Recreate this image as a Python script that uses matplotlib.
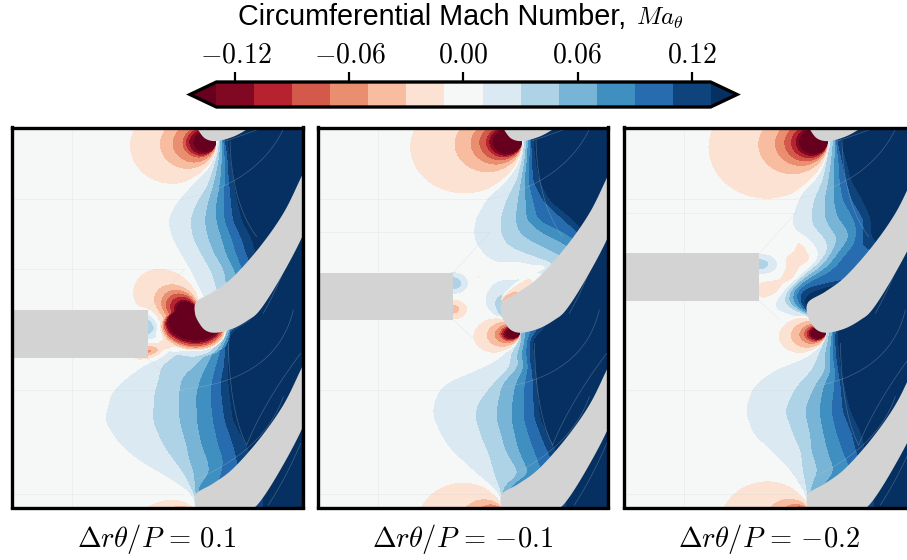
#!/usr/bin/env python3

import numpy as np
from matplotlib import pyplot as plt
from matplotlib.patches import Polygon, Rectangle

plt.rcParams["font.family"] = ["Liberation Sans", "DejaVu Sans"]
plt.rcParams["mathtext.fontset"] = "cm"

# contour levels and colorbar
levels = np.linspace(-0.13, 0.13, 14)
tick_values = [-0.12, -0.06, 0.0, 0.06, 0.12]
tick_labels = [r"$-0.12$", r"$-0.06$", r"$0.00$", r"$0.06$", r"$0.12$"]
cbar_title = "Circumferential Mach Number,"
cbar_symbol = r"$Ma_\theta$"
panel_labels = [r"$\Delta r\theta/P\,=\,0.1$", r"$\Delta r\theta/P\,=\,{-}0.1$", r"$\Delta r\theta/P\,=\,{-}0.2$"]

blue_levels = [0.01, 0.03, 0.05, 0.07, 0.09, 0.11, 0.13]
red_levels = [-0.01, -0.03, -0.05, -0.07, -0.09, -0.11, -0.13]

# x where the field crosses each of blue_levels, per row
rows_1 = [0, 65, 100, 150, 200, 250, 300, 350, 400, 450, 500, 540, 600, 638, 670, 700, 735,
          770, 820, 900, 970, 1020, 1060, 1100, 1125, 1165]
edges_1 = [
    [660, 664, 668, 672, 676, 680, 686],
    [655, 658, 662, 666, 671, 676, 684],
    [650, 655, 660, 668, 675, 683, 690],
    [618, 640, 652, 665, 677, 686, 697],
    [575, 623, 640, 660, 675, 690, 705],
    [530, 590, 625, 650, 672, 695, 715],
    [505, 572, 615, 650, 675, 700, 727],
    [518, 580, 625, 665, 695, 725, 755],
    [545, 605, 645, 680, 710, 740, 770],
    [575, 635, 675, 705, 730, 760, 790],
    [600, 650, 680, 720, 750, 780, 810],
    [620, 660, 700, 730, 750, 770, 790],
    [650, 660, 680, 700, 720, 740, 760],
    [655, 660, 668, 675, 680, 685, 690],
    [600, 640, 650, 657, 668, 680, 690],
    [450, 525, 625, 640, 660, 675, 687],
    [440, 485, 590, 622, 650, 675, 687],
    [385, 480, 548, 605, 640, 665, 685],
    [335, 465, 538, 590, 632, 665, 690],
    [316, 460, 540, 592, 640, 675, 700],
    [360, 490, 560, 605, 655, 700, 740],
    [420, 525, 570, 625, 672, 712, 760],
    [490, 555, 585, 630, 665, 720, 770],
    [555, 575, 585, 595, 650, 730, 780],
    [580, 585, 590, 600, 660, 740, 790],
    [595, 600, 610, 640, 680, 740, 790],
]

rows_2 = [0, 65, 120, 180, 240, 300, 340, 370, 400, 430, 470, 520, 550, 590, 620, 660, 710, 736,
          794, 850, 890, 960, 990, 1060, 1100, 1125, 1165]
edges_2 = [
    [645, 650, 654, 658, 662, 668, 674],
    [640, 645, 650, 655, 660, 665, 672],
    [625, 637, 645, 652, 660, 668, 678],
    [595, 622, 635, 645, 657, 670, 690],
    [530, 590, 625, 648, 670, 700, 720],
    [497, 572, 618, 652, 685, 765, 795],
    [493, 575, 630, 700, 775, 810, 830],
    [500, 590, 680, 770, 810, 825, 840],
    [525, 640, 750, 800, 815, 828, 840],
    [555, 720, 780, 800, 810, 820, 830],
    [565, 760, 780, 790, 795, 800, 810],
    [530, 565, 690, 720, 740, 760, 780],
    [525, 552, 600, 640, 680, 720, 760],
    [560, 575, 620, 640, 660, 690, 710],
    [620, 625, 630, 650, 670, 690, 710],
    [625, 630, 637, 645, 652, 660, 668],
    [580, 600, 620, 635, 650, 660, 675],
    [537, 605, 630, 646, 657, 665, 676],
    [400, 548, 577, 617, 645, 672, 683],
    [372, 505, 565, 608, 642, 672, 688],
    [371, 497, 560, 605, 642, 674, 691],
    [405, 520, 580, 620, 662, 700, 725],
    [428, 535, 588, 628, 674, 714, 740],
    [505, 555, 630, 660, 700, 740, 770],
    [555, 570, 580, 600, 680, 730, 770],
    [572, 576, 580, 590, 680, 730, 770],
    [590, 595, 600, 620, 680, 730, 770],
]

rows_3 = [0, 70, 120, 180, 240, 290, 320, 350, 380, 400, 440, 460, 480, 500, 520, 540, 565, 585, 600,
          660, 710, 750, 800, 870, 940, 990, 1050, 1100, 1125, 1165]
edges_3 = [
    [645, 652, 658, 662, 666, 672, 680],
    [640, 648, 655, 660, 665, 670, 680],
    [625, 637, 650, 660, 672, 682, 695],
    [590, 625, 642, 658, 675, 695, 710],
    [552, 598, 630, 658, 685, 712, 745],
    [536, 590, 630, 668, 715, 745, 768],
    [534, 597, 645, 695, 725, 748, 770],
    [560, 630, 670, 705, 725, 745, 770],
    [600, 640, 660, 685, 715, 740, 800],
    [612, 635, 650, 670, 695, 800, 830],
    [590, 600, 620, 640, 665, 780, 820],
    [560, 575, 590, 610, 640, 780, 820],
    [530, 545, 558, 575, 600, 690, 730],
    [497, 520, 530, 540, 552, 565, 640],
    [480, 508, 520, 532, 545, 555, 572],
    [470, 500, 515, 530, 545, 555, 568],
    [480, 530, 550, 560, 568, 572, 576],
    [515, 575, 580, 585, 590, 595, 600],
    [640, 645, 650, 655, 660, 665, 670],
    [625, 630, 640, 650, 655, 662, 670],
    [590, 610, 630, 645, 655, 665, 675],
    [479, 593, 633, 650, 662, 671, 679],
    [416, 545, 599, 627, 659, 679, 690],
    [393, 511, 570, 614, 650, 684, 707],
    [416, 536, 587, 627, 667, 713, 741],
    [473, 559, 591, 639, 684, 724, 753],
    [530, 565, 610, 660, 710, 750, 780],
    [562, 575, 590, 625, 690, 740, 780],
    [575, 578, 585, 600, 690, 740, 780],
    [590, 595, 600, 620, 690, 740, 780],
]

# red lobes: apex x, apex y, direction x, direction y, squash, radius at each of red_levels
lobes_1 = [
    (650, 62, -1.0, 0.1, 0.9, [131, 86, 67, 52, 47, 42, 36]),
    (590, 590, -0.86, -0.51, 0.8, [106, 72, 60, 52, 45, 38, 35]),
    (585, 560, -0.1, 1.0, 1.5, [68, 65, 62, 60, 57, 55, 52]),
    (602, 1195, -0.95, 0.1, 0.7, [95, 65, 45, 35, 28, 22, 18]),
]
lobes_2 = [
    (638, 60, -1.0, 0.1, 0.85, [170, 103, 79, 66, 56, 51, 46]),
    (632, 636, -1.0, 0.13, 0.75, [72, 52, 40, 33, 30, 27, 24]),
    (575, 545, 0.85, -0.5, 0.4, [68, 28, 3, 2, 1.5, 1, 0.5]),
    (590, 1190, -0.95, 0.1, 0.87, [135, 70, 50, 40, 32, 25, 20]),
]
lobes_3 = [
    (640, 60, -1.0, 0.1, 0.88, [181, 106, 81, 67, 57, 50, 45]),
    (635, 636, -1.0, 0.13, 0.75, [73, 55, 42, 35, 31, 28, 25]),
    (593, 1190, -0.95, 0.1, 0.87, [140, 72, 52, 42, 34, 27, 22]),
]

# small patches: x, y, strength, spread x, spread y
patches_1 = [
    (443, 615, 0.045, 20, 28),
    (443, 693, -0.055, 32, 17),
]
patches_2 = [
    (430, 490, 0.045, 24, 18),
    (430, 568, -0.04, 26, 19),
    (506, 470, -0.014, 5, 6),
    (640, 450, -0.018, 45, 25),
    (700, 440, -0.012, 20, 12),
]
patches_3 = [
    (433, 433, 0.04, 33, 18),
    (552, 418, -0.018, 30, 13),
    (528, 462, -0.018, 22, 28),
    (470, 510, -0.022, 42, 24),
    (560, 380, -0.012, 28, 25),
]

wedge_top = [570, 458, 400]
wedge_bottom = [715, 600, 543]
wedge_end = [443, 430, 433]
x_offsets = [34.5, 22.5, 25.5]
panel_left = [11.5, 317.5, 623.5]

all_rows = [rows_1, rows_2, rows_3]
all_edges = [edges_1, edges_2, edges_3]
all_lobes = [lobes_1, lobes_2, lobes_3]
all_patches = [patches_1, patches_2, patches_3]

# blade outline, middle passage, pitch between neighbours
blade_x = [590, 640, 700, 780, 850, 902, 960, 1010, 1010, 960, 902, 835, 780, 745, 700, 650, 618, 598, 585]
blade_y = [545, 515, 470, 380, 280, 175, 50, -60, 0, 220, 360, 485, 570, 600, 625, 638, 632, 610, 580]
pitch = 575

# faint mesh lines, shared by the panels: three control points each
mesh_arcs = [
    ([775, 730, 680], [28, 45, 62]),
    ([850, 770, 548], [28, 190, 238]),
    ([690, 695, 770], [62, 250, 350]),
    ([880, 830, 548], [570, 780, 808]),
    ([685, 690, 740], [670, 880, 975]),
    ([902, 790, 740], [700, 850, 975]),
    ([850, 790, 560], [830, 1000, 1090]),
    ([902, 860, 805], [970, 1070, 1155]),
    ([902, 880, 790], [250, 420, 580]),
]
mesh_v = 215
mesh_h = [238, 810, 1123]


def smooth(v, n=20):
    pad = np.pad(v, n, mode="edge")
    kernel = np.ones(n) / n
    out = np.convolve(np.convolve(pad, kernel, mode="same"), kernel, mode="same")
    return out[n:-n]


def blue_field(xx, yy, rows, edges):
    edges = np.array(edges, dtype=float) + np.arange(7) * 0.01
    cols = [smooth(np.interp(yy, rows, edges[:, i])) for i in range(7)]
    cols = np.array(cols).T
    z = np.zeros((len(yy), len(xx)))
    for j in range(len(yy)):
        xp = np.concatenate([[cols[j, 0] - 30], cols[j], [cols[j, 6] + 20]])
        fp = np.concatenate([[0.0], blue_levels, [0.15]])
        z[j] = np.interp(xx, xp, fp)
    return z


def lobe_field(X, Y, lobe):
    ax0, ay0, ux, uy, squash, radii = lobe
    norm = np.hypot(ux, uy)
    ux, uy = ux / norm, uy / norm
    s = (X - ax0) * ux + (Y - ay0) * uy
    t = -(X - ax0) * uy + (Y - ay0) * ux
    r = (s ** 2 + (t / squash) ** 2) / (2 * np.where(s > 0.01, s, 0.01))
    r = np.where(s > 0.01, r, 1e6)
    rp = np.array(radii[::-1], dtype=float) + np.arange(7) * 0.01
    xp = np.concatenate([[0.0], rp, [radii[0] * 1.25]])
    fp = np.concatenate([[-0.15], red_levels[::-1], [0.0]])
    return np.interp(r, xp, fp)


def patch_field(X, Y, patch):
    x0, y0, amp, sx, sy = patch
    return amp * np.exp(-0.5 * (((X - x0) / sx) ** 2 + ((Y - y0) / sy) ** 2))


def closed_curve(px, py, n=12):
    # Catmull-Rom through the read points
    p = np.column_stack([px, py]).astype(float)
    out = []
    m = len(p)
    for i in range(m):
        p0, p1, p2, p3 = p[i - 1], p[i], p[(i + 1) % m], p[(i + 2) % m]
        for t in np.linspace(0, 1, n, endpoint=False):
            out.append(0.5 * (2 * p1 + (p2 - p0) * t + (2 * p0 - 5 * p1 + 4 * p2 - p3) * t ** 2
                              + (3 * p1 - p0 - 3 * p2 + p3) * t ** 3))
    return np.array(out)


def arc(mx, my):
    t = np.linspace(0, 1, 40)
    ox = (1 - t) ** 2 * mx[0] + 2 * t * (1 - t) * mx[1] + t ** 2 * mx[2]
    oy = (1 - t) ** 2 * my[0] + 2 * t * (1 - t) * my[1] + t ** 2 * my[2]
    return ox, oy


W, H = 907.0, 560.0
fig = plt.figure(figsize=(W / 100, H / 100), dpi=100)
blade = closed_curve(blade_x, blade_y)
line_kw = dict(color="#c8d0d4", lw=0.5, alpha=0.3, zorder=3)

for i in range(3):
    off = x_offsets[i]
    shift = off - x_offsets[0]
    ax = fig.add_axes([panel_left[i] / W, 1 - 507.5 / H, 291 / W, 380 / H])
    xx = np.linspace(off, off + 873, 580)
    yy = np.linspace(22.5, 1162.5, 760)
    X, Y = np.meshgrid(xx, yy)

    z = blue_field(xx, yy, all_rows[i], all_edges[i])
    red = np.zeros_like(z)
    for lobe in all_lobes[i]:
        red = np.minimum(red, lobe_field(X, Y, lobe))
    z = np.where(red < -0.005, z * (1 + red / 0.03).clip(0, 1) + red, z)
    for patch in all_patches[i]:
        z = z + patch_field(X, Y, patch)

    cs = ax.contourf(xx, yy, z, levels=levels, cmap="RdBu", extend="both")

    for mx, my in mesh_arcs:
        ox, oy = arc(mx, my)
        ax.plot(ox + shift, oy, **line_kw)
    end = wedge_end[i]
    ax.plot([mesh_v + shift] * 2, [22.5, 1162.5], **line_kw)
    for h in mesh_h:
        ax.plot([off, off + 515], [h, h], **line_kw)
    ax.plot([off, end + 110], [wedge_top[i] - 122] * 2, **line_kw)
    ax.plot([end, end + 110], [wedge_top[i], wedge_top[i] - 122], **line_kw)
    ax.plot([end, end + 60], [wedge_bottom[i], wedge_bottom[i] + 55], **line_kw)

    for k in (-1, 0, 1):
        shifted = blade + np.array([shift, k * pitch])
        ax.add_patch(Polygon(shifted, closed=True, fc="lightgray", ec="none", zorder=4))
    ax.add_patch(Rectangle((off - 20, wedge_top[i]), end - off + 20, wedge_bottom[i] - wedge_top[i],
                           fc="lightgray", ec="none", zorder=4))

    ax.set_xlim(off, off + 873)
    ax.set_ylim(1162.5, 22.5)
    ax.set_xticks([])
    ax.set_yticks([])
    for sp in ax.spines.values():
        sp.set_linewidth(2.4)
        sp.set_zorder(6)
    fig.text((panel_left[i] + 145.5) / W, 1 - 539 / H, panel_labels[i], ha="center", va="center", fontsize=20.5)

cax = fig.add_axes([190 / W, 1 - 107 / H, 547 / W, 25 / H])
cbar = fig.colorbar(cs, cax=cax, orientation="horizontal", extend="both", extendfrac=26.6 / 497, ticks=tick_values)
cbar.outline.set_linewidth(2.4)
cax.xaxis.set_ticks_position("top")
cbar.set_ticklabels(tick_labels)
cax.tick_params(axis="x", length=7, width=1.6, labelsize=20, pad=3)
fig.text(626 / W, 1 - 17 / H, cbar_title, ha="right", va="center", fontsize=20.7)
fig.text(636 / W, 1 - 18 / H, cbar_symbol, ha="left", va="center", fontsize=18)

fig.savefig("out.png", dpi=100)
